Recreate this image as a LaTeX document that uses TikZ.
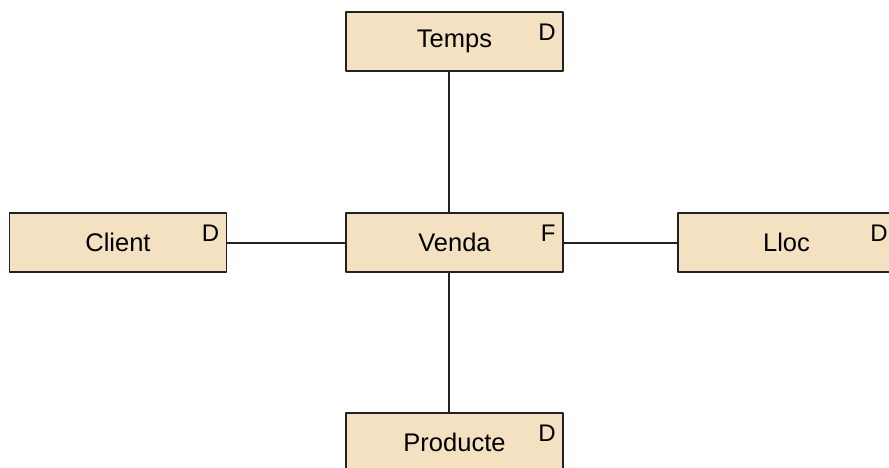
\documentclass[tikz,border=0pt]{standalone}
\usepackage{fontspec}
\setmainfont{Liberation Sans}
\definecolor{taula}{HTML}{F4E1C2}
\definecolor{vora}{HTML}{222222}
\begin{document}
\begin{tikzpicture}[x=1pt, y=1pt, font=\fontsize{25.5}{30}\selectfont, line join=round,
	taula/.style={draw=vora, fill=taula, line width=1.6pt, minimum width=217pt, minimum height=59pt, inner sep=0pt},
	tipus/.style={label={[anchor=north east, inner sep=0pt, xshift=-8pt, yshift=-13pt, font=\fontsize{24}{28}\selectfont]north east:#1}},
	enllac/.style={draw=vora, line width=1.6pt}]
	\useasboundingbox (0,0) rectangle (889,468);
	% taula de fets al centre
	\node[taula, tipus=F] (venda) at (454.5,225.5) {Venda};
	% dimensions
	\node[taula, tipus=D] (temps) at (454.5,426.5) {Temps};
	\node[taula, tipus=D] (client) at (118,225.5) {Client};
	\node[taula, tipus=D] (lloc) at (786.5,225.5) {Lloc};
	\node[taula, tipus=D] (producte) at (454.5,25.5) {Producte};
	\draw[enllac] ([xshift=-5.5pt]temps.south) -- ([xshift=-5.5pt]venda.north);
	\draw[enllac] ([xshift=-5.5pt]venda.south) -- ([xshift=-5.5pt]producte.north);
	\draw[enllac] ([yshift=-0.5pt]client.east) -- ([yshift=-0.5pt]venda.west);
	\draw[enllac] ([yshift=-0.5pt]venda.east) -- ([yshift=-0.5pt]lloc.west);
\end{tikzpicture}
\end{document}
